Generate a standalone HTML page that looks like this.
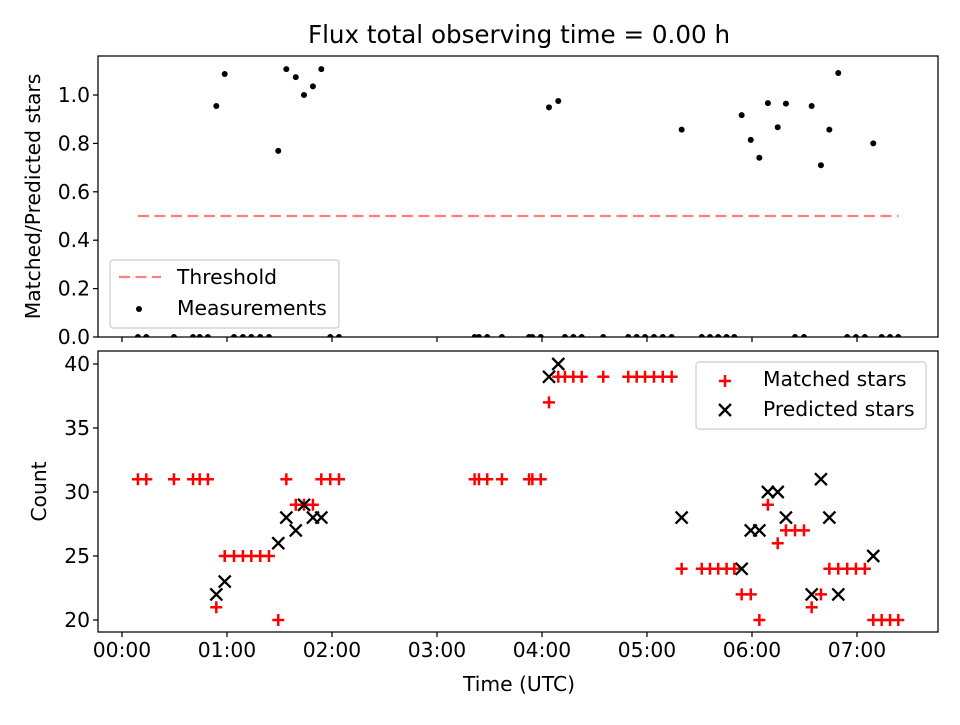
<!DOCTYPE html>
<html><head><meta charset="utf-8"><style>
body{margin:0;background:#fff}
svg text{font-family:"DejaVu Sans","Liberation Sans",sans-serif;fill:#000}
</style></head><body>
<svg id="chart" width="960" height="720" xmlns="http://www.w3.org/2000/svg">
<defs>
<clipPath id="clipTop"><rect x="98" y="56" width="840" height="281"/></clipPath>
<clipPath id="clipBot"><rect x="98" y="351" width="840" height="281"/></clipPath>
</defs>
<text x="519" y="43" font-size="24.6" text-anchor="middle">Flux total observing time = 0.00 h</text>
<g id="top"></g>
<g id="bot"></g>
</svg>
<script>
// time in minutes after 00:00 UTC
const times = [9.1,13.9,29.7,40.6,44.4,49.1,53.9,58.7,64,69.1,73.9,79,84,89.3,93.9,99.3,104,109.1,113.9,119,124,
 201.5,204,208.7,217.1,232.6,234.5,239.3,244,249.3,253.1,257.9,262.7,275,289.3,294.1,298.9,304,309,314.1,
 319.8,331.3,336,340.7,345.5,349.9,354.1,359.3,364.2,369.1,374.7,379.4,384.6,389.7,394.1,399.4,404.2,409.3,414.4,419.4,424.5,429.3,434.1,438.9,443.6];
const matched = [31,31,31,31,31,31,21,25,25,25,25,25,25,20,31,29,29,29,31,31,31,
 31,31,31,31,31,31,31,37,39,39,39,39,39,39,39,39,39,39,39,
 24,24,24,24,24,24,22,22,20,29,26,27,27,27,21,22,24,24,24,24,24,20,20,20,20];
const predicted = [null,null,null,null,null,null,22,23,null,null,null,null,null,26,28,27,29,28,28,null,null,
 null,null,null,null,null,null,null,39,40,null,null,null,null,null,null,null,null,null,null,
 28,null,null,null,null,null,24,27,27,30,30,28,null,null,22,31,28,22,null,null,null,25,null,null,null];
const threshold = 0.5;
const xTicks = [0,60,120,180,240,300,360,420];
const xTickLabels = ["00:00","01:00","02:00","03:00","04:00","05:00","06:00","07:00"];
const topYTicks = [0,0.2,0.4,0.6,0.8,1.0];
const botYTicks = [20,25,30,35,40];

const NS="http://www.w3.org/2000/svg";
const FS=20.3;
function mk(tag,attrs,parent,txt){const e=document.createElementNS(NS,tag);for(const k in attrs)e.setAttribute(k,attrs[k]);if(txt!==undefined)e.textContent=txt;parent.appendChild(e);return e;}
const L=98,R=938;
const xMin=-13.71,xMax=466.29;
const X=m=>L+(m-xMin)/(xMax-xMin)*(R-L);
const topT=56,topB=337,yTopMax=1.1612;
const YT=v=>topB-v/yTopMax*(topB-topT);
const botT=351,botB=632,yBMin=19.0625,yBMax=41.0156;
const YB=v=>botB-(v-yBMin)/(yBMax-yBMin)*(botB-botT);

const gt=document.getElementById('top'), gb=document.getElementById('bot');

function axes(g,top,bot,yTicks,yf,fmt,labels,name){
  const frame=mk('rect',{x:L,y:top,width:R-L,height:bot-top,fill:'none',stroke:'#000','stroke-width':1.25},g);
  
  
  xTicks.forEach((t,i)=>{
    const tk=mk('line',{x1:X(t),x2:X(t),y1:bot,y2:bot+5,stroke:'#000','stroke-width':1.25},g);
    
    
    if(labels){
      const tl=mk('text',{x:X(t),y:bot+25,'font-size':FS,'text-anchor':'middle'},g,xTickLabels[i]);
      
      
    }
  });
  yTicks.forEach(v=>{
    const tk=mk('line',{x1:L-5,x2:L,y1:yf(v),y2:yf(v),stroke:'#000','stroke-width':1.25},g);
    
    
    const tl=mk('text',{x:L-8,y:yf(v)+7,'font-size':FS,'text-anchor':'end'},g,fmt(v));
    
    
  });
}

// top panel
const tc=mk('g',{'clip-path':'url(#clipTop)'},gt);
const th=mk('line',{x1:X(times[0]),x2:X(times[times.length-1]),y1:YT(threshold),y2:YT(threshold),stroke:'#ff7f7f','stroke-width':2.2,'stroke-dasharray':'11,5.5'},tc);


times.forEach((t,i)=>{
  const r=predicted[i]?matched[i]/predicted[i]:0;
  const c=mk('circle',{cx:X(t),cy:YT(r),r:3,fill:'#000'},tc);
  
  
});
axes(gt,topT,topB,topYTicks,YT,v=>v.toFixed(1),false,'top');
const yl1=mk('text',{x:0,y:0,'font-size':FS,'text-anchor':'middle',transform:'translate(40,'+((topT+topB)/2)+') rotate(-90)'},gt,'Matched/Predicted stars');


// top legend
const lg1=mk('g',{},gt);


mk('rect',{x:110,y:260,width:229,height:68,rx:3,fill:'#fff','fill-opacity':0.8,stroke:'#ccc','stroke-width':1.2},lg1);
mk('line',{x1:119,x2:161,y1:277,y2:277,stroke:'#ff7f7f','stroke-width':2.2,'stroke-dasharray':'11,5.5'},lg1);
mk('text',{x:177,y:284,'font-size':FS},lg1,'Threshold');
mk('circle',{cx:139,cy:309,r:3,fill:'#000'},lg1);
mk('text',{x:177,y:315,'font-size':FS},lg1,'Measurements');

// bottom panel
const bc=mk('g',{'clip-path':'url(#clipBot)'},gb);
times.forEach((t,i)=>{
  const x=X(t),y=YB(matched[i]);
  const p=mk('path',{d:`M${x-6},${y}H${x+6}M${x},${y-6}V${y+6}`,stroke:'#ff0000','stroke-width':2.5},bc);
  
  
});
times.forEach((t,i)=>{
  if(predicted[i]==null)return;
  const x=X(t),y=YB(predicted[i]);
  const p=mk('path',{d:`M${x-6},${y-6}L${x+6},${y+6}M${x-6},${y+6}L${x+6},${y-6}`,stroke:'#000','stroke-width':2.3},bc);
  
  
});
axes(gb,botT,botB,botYTicks,YB,v=>String(v),true,'bottom');
const yl2=mk('text',{x:0,y:0,'font-size':FS,'text-anchor':'middle',transform:'translate(46,'+((botT+botB)/2)+') rotate(-90)'},gb,'Count');


const xl=mk('text',{x:519,y:691,'font-size':FS,'text-anchor':'middle'},gb,'Time (UTC)');


const lg2=mk('g',{},gb);


mk('rect',{x:696,y:362,width:230,height:67,rx:3,fill:'#fff','fill-opacity':0.8,stroke:'#ccc','stroke-width':1.2},lg2);
mk('path',{d:'M719,381H731M725,375V387',stroke:'#ff0000','stroke-width':2.5},lg2);
mk('text',{x:763,y:386,'font-size':FS},lg2,'Matched stars');
mk('path',{d:'M719,404L731,416M719,416L731,404',stroke:'#000','stroke-width':2.3},lg2);
mk('text',{x:763,y:416,'font-size':FS},lg2,'Predicted stars');
</script>
</body></html>
